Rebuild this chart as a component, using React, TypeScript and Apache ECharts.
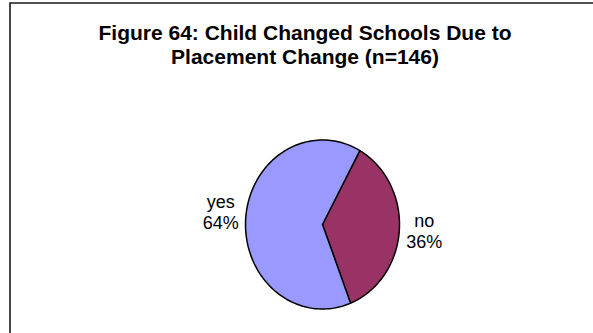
import React, { useEffect, useRef } from "react";
import * as echarts from "echarts";

const categories = ["no", "yes"];
const percentages = [36, 64];
const sliceColors = ["#993366", "#9999FF"];
const titleLines = ["Figure 64: Child Changed Schools Due to", "Placement Change (n=146)"];

const CX = 322.5;
const CY = 224.5;
const RX = 77;
const RY = 84.5;
const START_DEG = 29;

export default function App() {
  const ref = useRef<HTMLDivElement>(null);
  useEffect(() => {
    const chart = echarts.init(ref.current!, null, { renderer: "svg" });
    const total = percentages.reduce((a, b) => a + b, 0);
    const pt = (deg: number) => {
      const r = (deg * Math.PI) / 180;
      return [CX + RX * Math.sin(r), CY - RY * Math.cos(r)];
    };
    const renderItem = (params: any, api: any) => {
      const i = params.dataIndex;
      let before = 0;
      for (let k = 0; k < i; k++) before += percentages[k];
      const v = api.value(0);
      const a0 = START_DEG + (before / total) * 360;
      const a1 = a0 + (v / total) * 360;
      const pts: number[][] = [[CX, CY]];
      const n = 140;
      for (let s = 0; s <= n; s++) pts.push(pt(a0 + ((a1 - a0) * s) / n));
      const mid = (a0 + a1) / 2;
      const [ex, ey] = pt(mid);
      const left = Math.sin((mid * Math.PI) / 180) < 0;
      const lx = left ? ex - 7 - 18 : ex + 7 + 18;
      const ly = ey + (left ? -6 : 1);
      return {
        type: "group",
        children: [
          {
            type: "polygon",
            shape: { points: pts },
            style: { fill: sliceColors[i], stroke: "#000", lineWidth: 1.5, lineJoin: "round" },
          },
          {
            type: "text",
            x: lx,
            y: ly,
            style: {
              text: `${categories[i]}\n${v}%`,
              align: "center",
              verticalAlign: "middle",
              font: '18px "Liberation Sans", Arial, sans-serif',
              lineHeight: 21,
              fill: "#000",
            },
          },
        ],
      };
    };
    chart.setOption({
      animation: false,
      backgroundColor: "#fff",
      graphic: [
        {
          type: "rect",
          shape: { x: 10, y: 3, width: 700, height: 500 },
          style: { fill: "none", stroke: "#1a1a1a", lineWidth: 1.6 },
          z: 0,
        },
        {
          type: "text",
          x: 305,
          y: 20,
          style: {
            text: titleLines.join("\n"),
            align: "center",
            verticalAlign: "top",
            font: 'bold 21px "Liberation Sans", Arial, sans-serif',
            lineHeight: 24,
            fill: "#000",
          },
        },
      ],
      series: [
        {
          type: "custom",
          coordinateSystem: "none",
          renderItem,
          data: percentages.map((v, i) => ({ name: categories[i], value: [v] })),
        },
      ],
    });
    return () => chart.dispose();
  }, []);
  return (
    <div
      ref={ref}
      style={{ position: "fixed", left: 0, top: 0, width: 593, height: 333, background: "#fff" }}
    />
  );
}
